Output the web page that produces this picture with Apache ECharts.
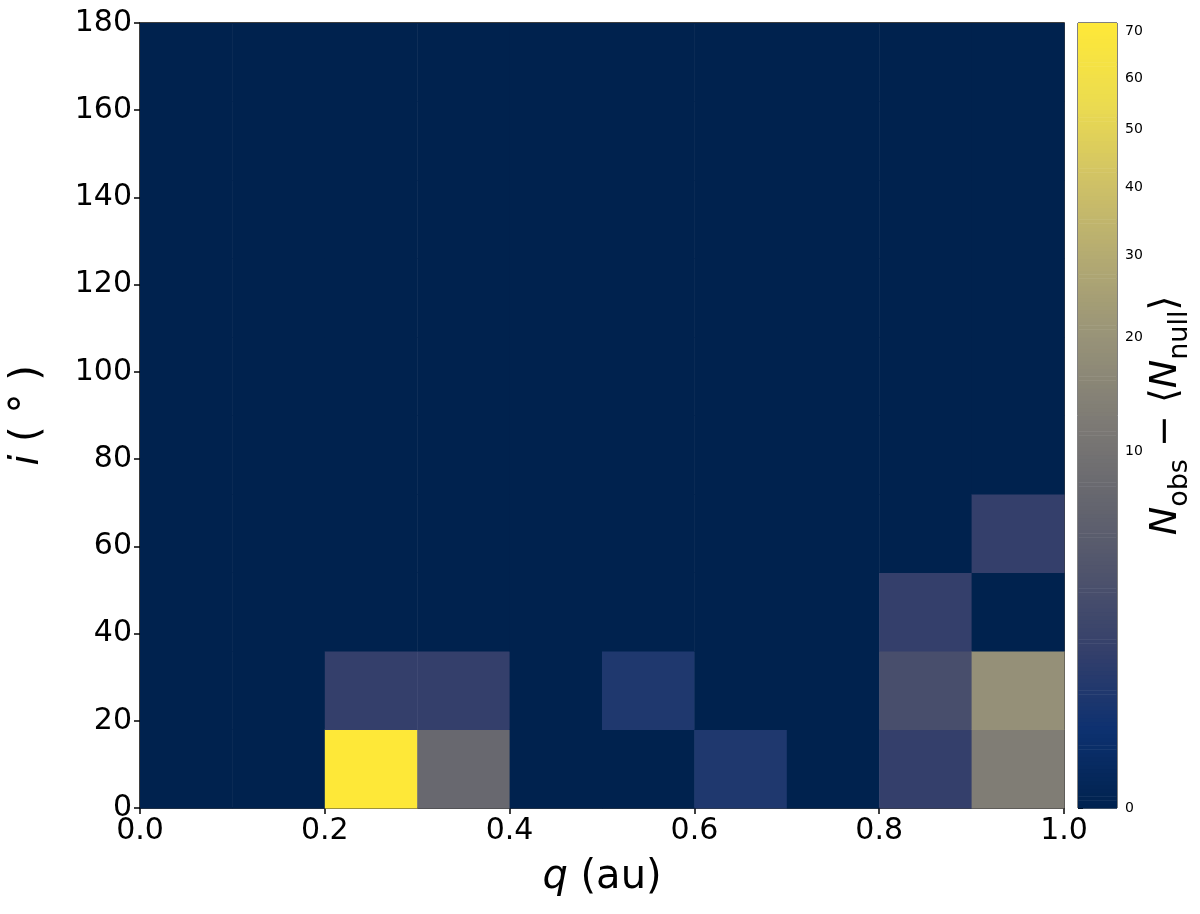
<!DOCTYPE html>
<html><head><meta charset="utf-8">
<script src="https://cdn.jsdelivr.net/npm/echarts@6/dist/echarts.min.js"></script>
<style>html,body{margin:0;padding:0;background:#fff}#c{width:1200px;height:914px}</style>
</head><body><div id="c"></div>
<script>
// bin lower edges (q in au, i in degrees) and values N_obs - <N_null>
const qLow = [0.2, 0.3, 0.2, 0.3, 0.5, 0.6, 0.8, 0.8, 0.8, 0.9, 0.9, 0.9, 0.9];
const iLow = [0,   0,   18,  18,  18,  0,   0,   18,  36,  0,   18,  36,  54];
const vals = [72,  7.5, 1.3, 1.3, 0.6, 0.6, 1.3, 2.8, 1.3, 13, 19, 0, 1.3];
const qStep = 0.1, iStep = 18;
const vMax = 72, gamma = 0.4;
const cbTicks = [0, 10, 20, 30, 40, 50, 60, 70];
const tr = v => Math.pow(Math.max(v, 0) / vMax, gamma);

const cells = [];
for (let a = 0; a < 10; a++) for (let b = 0; b < 10; b++) cells.push([a * qStep, b * iStep, 0, 0]);
for (let k = 0; k < vals.length; k++) {
  const a = Math.round(qLow[k] / qStep), b = Math.round(iLow[k] / iStep);
  cells[a * 10 + b] = [qLow[k], iLow[k], tr(vals[k]), vals[k]];
}
const grad = [];
for (let s = 0; s < 200; s++) grad.push([0, s / 200, (s + 0.5) / 200]);

const cividis = ['#00224e','#0d3170','#343f6b','#4f546c','#67676f','#7f7c75','#989378','#b3aa72','#d0c266','#ecdc4f','#fee838'];
const font = 'DejaVu Sans';
const chart = echarts.init(document.getElementById('c'));
chart.setOption({
  animation: false,
  visualMap: { show: false, min: 0, max: 1, dimension: 2, seriesIndex: [0, 1], inRange: { color: cividis } },
  grid: [
    { left: 137, top: 23, width: 927, height: 785, show: true, borderColor: '#000', borderWidth: 1.5 },
    { left: 1078, top: 23, width: 39, height: 785, show: true, borderColor: '#000', borderWidth: 1 }
  ],
  xAxis: [
    { gridIndex: 0, type: 'value', min: 0, max: 1, interval: 0.2,
      axisLine: { show: false }, splitLine: { show: false },
      axisTick: { show: true, length: 6, lineStyle: { color: '#000', width: 1.5 } },
      axisLabel: { fontFamily: font, fontSize: 30, color: '#000', margin: 8, formatter: v => v.toFixed(1) },
      name: '{it|q} (au)', nameLocation: 'middle', nameGap: 50,
      nameTextStyle: { fontFamily: font, fontSize: 40, color: '#000', rich: { it: { fontFamily: font, fontSize: 40, fontStyle: 'italic' } } } },
    { gridIndex: 1, type: 'value', min: 0, max: 1, show: false }
  ],
  yAxis: [
    { gridIndex: 0, type: 'value', min: 0, max: 180, interval: 20,
      axisLine: { show: false }, splitLine: { show: false },
      axisTick: { show: true, length: 6, lineStyle: { color: '#000', width: 1.5 } },
      axisLabel: { fontFamily: font, fontSize: 30, color: '#000', margin: 8 },
      name: '{it|i} ( ° )', nameLocation: 'middle', nameGap: 92, nameRotate: 90,
      nameTextStyle: { fontFamily: font, fontSize: 40, color: '#000', rich: { it: { fontFamily: font, fontSize: 40, fontStyle: 'italic' } } } },
    { gridIndex: 1, type: 'value', min: 0, max: 1, position: 'right',
      axisLine: { show: false }, splitLine: { show: false },
      axisTick: { show: true, length: 5, customValues: cbTicks.map(tr), lineStyle: { color: '#000' } },
      axisLabel: { show: true, customValues: cbTicks.map(tr), fontFamily: font, fontSize: 14, color: '#000', margin: 8,
        formatter: v => String(Math.round(vMax * Math.pow(v, 1 / gamma))) },
      name: '{it|N}{sub|obs} − ⟨{it|N}{sub|null}⟩', nameLocation: 'middle', nameGap: 50, nameRotate: 90,
      nameTextStyle: { fontFamily: font, fontSize: 38, color: '#000', verticalAlign: 'bottom',
        rich: { it: { fontFamily: font, fontSize: 38, fontStyle: 'italic', verticalAlign: 'bottom' },
                sub: { fontFamily: font, fontSize: 27, verticalAlign: 'bottom', padding: [0, 0, -9, 0] } } } }
  ],
  series: [
    { type: 'custom', xAxisIndex: 0, yAxisIndex: 0, data: cells, encode: { x: 0, y: 1 },
      renderItem: (p, api) => {
        const a = api.coord([api.value(0), api.value(1) + iStep]);
        const b = api.coord([api.value(0) + qStep, api.value(1)]);
        return { type: 'rect', shape: { x: a[0], y: a[1], width: b[0] - a[0] + 0.5, height: b[1] - a[1] + 0.5 },
          style: { fill: api.visual('color') } };
      } },
    { type: 'custom', xAxisIndex: 1, yAxisIndex: 1, data: grad, encode: { x: 0, y: 1 },
      renderItem: (p, api) => {
        const a = api.coord([0, api.value(1) + 1 / 200]);
        const b = api.coord([1, api.value(1)]);
        return { type: 'rect', shape: { x: a[0], y: a[1], width: b[0] - a[0], height: b[1] - a[1] + 0.6 },
          style: { fill: api.visual('color') } };
      } }
  ]
});
</script></body></html>
